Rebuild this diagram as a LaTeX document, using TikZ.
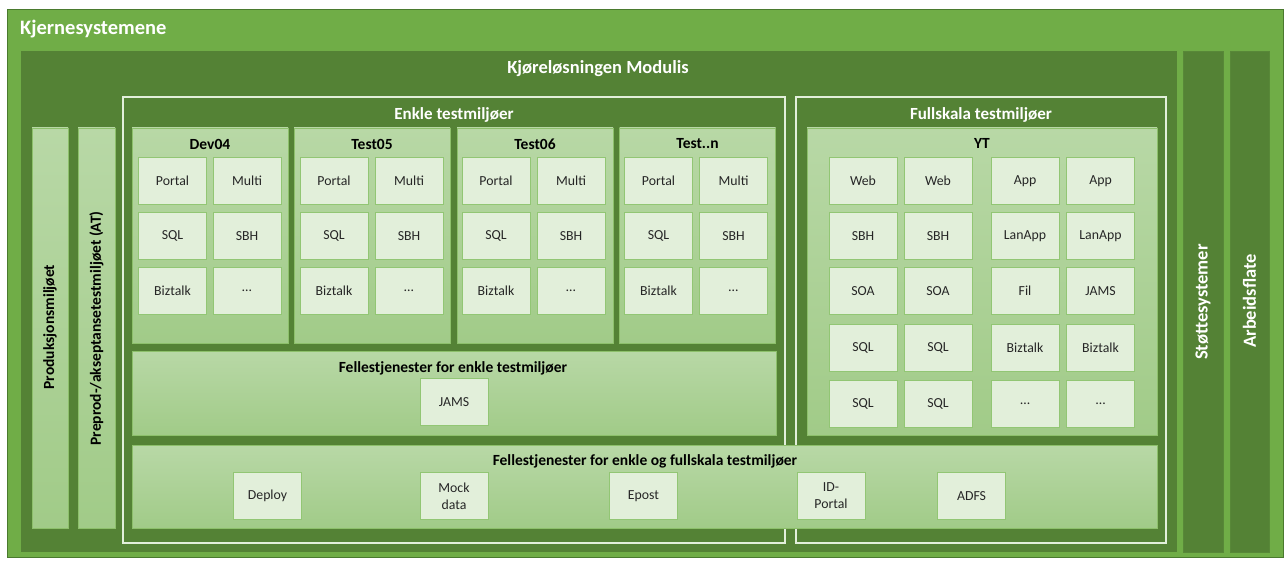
\documentclass[tikz,border=0pt]{standalone}
\usepackage{fontspec}
\setmainfont{Carlito}
\definecolor{outergreen}{HTML}{70AD47}
\definecolor{darkgreen}{HTML}{548235}
\definecolor{edgegreen}{HTML}{4A7A2E}
\definecolor{paneltop}{HTML}{B8D8A6}
\definecolor{panelbot}{HTML}{A1CB88}
\definecolor{panelline}{HTML}{8DC06B}
\definecolor{cellfill}{HTML}{E2EFDA}
\definecolor{cellline}{HTML}{92C674}
\definecolor{celltext}{HTML}{262626}
\definecolor{framewhite}{HTML}{E2EFDA}
\newcommand\moreitems{\ldots}
\newcommand\lastenv{Test..n}
\tikzset{
  panel/.style={rectangle, draw=panelline, line width=0.8pt, top color=paneltop, bottom color=panelbot, inner sep=0pt},
  cell/.style={rectangle, draw=cellline, line width=0.9pt, fill=cellfill, inner sep=1pt,
    minimum width=68pt, minimum height=47pt, text=celltext, align=center,
    font=\fontsize{13.8}{17}\selectfont},
  column/.style={rectangle, fill=darkgreen, draw=darkgreen!85!outergreen, line width=0.8pt, inner sep=0pt},
  frame/.style={rectangle, draw=framewhite, line width=1.5pt, inner sep=0pt},
  boxtitle/.style={font=\bfseries\fontsize{15.5}{17}\selectfont, text=black, inner sep=0pt},
  sharedtitle/.style={font=\bfseries\fontsize{15.5}{17}\selectfont, text=black, inner sep=0pt},
  headtitle/.style={font=\bfseries\fontsize{17}{19}\selectfont, text=white, inner sep=0pt},
  sidelabel/.style={font=\bfseries\fontsize{15.5}{17}\selectfont, rotate=90, inner sep=0pt},
  whitelabel/.style={font=\bfseries\fontsize{18.5}{20}\selectfont, rotate=90, inner sep=0pt, text=white},
}
\begin{document}
\begin{tikzpicture}[x=1pt,y=-1pt]
\useasboundingbox (0,0) rectangle (1287,561);
\fill[white] (0,0) rectangle (1287,561);

% Core systems background
\node[rectangle, fill=outergreen, draw=edgegreen, line width=1pt, minimum width=1276pt, minimum height=547pt, inner sep=0pt] (core) at (645,283.5) {};
\node[anchor=west, font=\bfseries\fontsize{20.5}{22}\selectfont, text=white, inner sep=0pt] (coretitle) at (20,29) {Kjernesystemene};

% Runtime solution
\node[rectangle, fill=darkgreen, inner sep=0pt, minimum width=1156pt, minimum height=501pt] (modulis) at (599,301.5) {};
\node[headtitle, font=\bfseries\fontsize{18.5}{20}\selectfont] (modulistitle) at (598,69) {Kjøreløsningen Modulis};

% Side systems
\node[column, minimum width=40pt, minimum height=501pt] (stotte) at (1203,301.5) {};
\node[column, minimum width=39pt, minimum height=501pt] (arbeid) at (1249.5,301.5) {};
\node[whitelabel] (stottelabel) at (1203,302) {Støttesystemer};
\node[whitelabel] (arbeidlabel) at (1249.5,301) {Arbeidsflate};

% Production and pre-production columns
\node[panel, minimum width=36pt, minimum height=400pt] (prod) at (50,328) {};
\node[panel, minimum width=37pt, minimum height=400pt] (preprod) at (96.5,328) {};
\node[sidelabel] (prodlabel) at (50,327) {Produksjonsmiljøet};
\node[sidelabel] (preprodlabel) at (96.5,328.5) {Preprod-/akseptansetestmiljøet (AT)};

% Frames for simple and full-scale test environments
\node[frame, minimum width=662pt, minimum height=446pt] (enkle) at (454,320) {};
\node[frame, minimum width=370pt, minimum height=446pt] (full) at (981,320) {};
\node[headtitle] (enkletitle) at (454,115) {Enkle testmiljøer};
\node[headtitle] (fulltitle) at (981,115) {Fullskala testmiljøer};

% Simple test environments
\foreach \nm/\cx/\ttl in {dev/210/Dev04, tfive/372/Test05, tsix/535/Test06, tn/697.5/\lastenv}{
  \node[panel, minimum width=156pt, minimum height=215pt] (\nm) at (\cx,235.5) {};
  \node[boxtitle] (\nm-title) at (\cx,144) {\ttl};
}
\foreach \nm/\a/\b in {dev/172.5/247, tfive/334/409, tsix/496/571, tn/658.5/733.5}{
  \node[cell] (\nm-portal) at (\a,180.5) {Portal};
  \node[cell] (\nm-multi) at (\b,180.5) {Multi};
  \node[cell] (\nm-sql) at (\a,236) {SQL};
  \node[cell] (\nm-sbh) at (\b,236) {SBH};
  \node[cell] (\nm-biz) at (\a,290.5) {Biztalk};
  \node[cell] (\nm-etc) at (\b,290.5) {\moreitems};
}

% Full-scale environment
\node[panel, minimum width=350pt, minimum height=307pt] (yt) at (982,281.5) {};
\node[boxtitle] (yttitle) at (982,143) {YT};
\foreach \r/\cy/\ta/\tb/\tc/\td in {
  1/181/Web/Web/App/App,
  2/236/SBH/SBH/LanApp/LanApp,
  3/291/SOA/SOA/Fil/JAMS,
  4/347.5/SQL/SQL/Biztalk/Biztalk,
  5/403.5/SQL/SQL/\moreitems/\moreitems}{
  \node[cell] (yt-\r-a) at (863,\cy) {\ta};
  \node[cell] (yt-\r-b) at (938,\cy) {\tb};
  \node[cell] (yt-\r-c) at (1025,\cy) {\tc};
  \node[cell] (yt-\r-d) at (1100.5,\cy) {\td};
}

% Shared services for simple environments
\node[panel, minimum width=644pt, minimum height=84pt] (fellesenkle) at (454,393) {};
\node[sharedtitle] (fellesenkletitle) at (453,368) {Fellestjenester for enkle testmiljøer};
\node[cell] (jams) at (454,402) {JAMS};

% Shared services for all environments
\node[panel, minimum width=1025pt, minimum height=83pt] (felles) at (644.5,486.5) {};
\node[sharedtitle] (fellestitle) at (645,461.5) {Fellestjenester for enkle og fullskala testmiljøer};
\node[cell] (deploy) at (267.5,496) {Deploy};
\node[cell] (mock) at (454,496) {Mock\\data};
\node[cell] (epost) at (643.5,496) {Epost};
\node[cell] (idporten) at (831,496) {ID-\\Portal};
\node[cell] (adfs) at (971.5,496) {ADFS};
\end{tikzpicture}
\end{document}
